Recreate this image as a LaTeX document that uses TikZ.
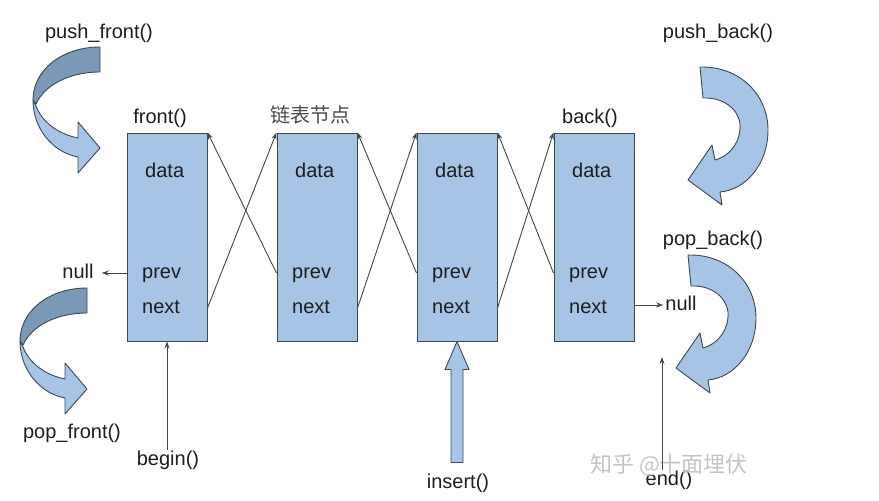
\documentclass[tikz,border=0pt]{standalone}
\usepackage{fontspec}
\setmainfont{Liberation Sans}
\newfontfamily\cjk{Noto Sans CJK SC}
\usetikzlibrary{arrows.meta}
\definecolor{boxfill}{HTML}{A7C4E6}
\definecolor{darkrib}{HTML}{7C98B7}
\definecolor{edgec}{HTML}{3E4852}
\definecolor{txt}{HTML}{1E1E1E}
\definecolor{cnlbl}{HTML}{4A4A4A}
\definecolor{wm}{HTML}{C4C4C4}
\begin{document}
\begin{tikzpicture}[x=1pt,y=-1pt,
  font=\fontsize{20}{24}\selectfont, text=txt,
  box/.style={draw=edgec, fill=boxfill, line width=1pt, minimum width=80pt, minimum height=208pt, inner sep=0pt},
  lbl/.style={inner sep=0pt, text height=15pt, text depth=4pt, anchor=center},
  fld/.style={lbl, anchor=west},
  link/.style={draw=edgec, line width=0.9pt, -{Stealth[length=7pt,width=5pt]}},
  rib/.style={draw=edgec, line width=0.9pt, line join=round},
  frontrib/.pic={
    \filldraw[rib, fill=boxfill] (33,100) .. controls (33,128) and (52,152) .. (78,157)
      -- (78,173) -- (100,148) -- (78,122) -- (78,138)
      .. controls (58,134) and (42,122) .. (36,106) -- cycle;
    \filldraw[rib, fill=darkrib] (100,47) -- (100,72) .. controls (68,72) and (44,86) .. (36,104)
      -- (33,100) .. controls (33,70) and (62,47) .. (100,47) -- cycle;
  },
  backrib/.pic={
    \filldraw[rib, fill=boxfill] (700,67) .. controls (740,66) and (768,95) .. (768,130)
      .. controls (768,165) and (745,190) .. (720,192) -- (722,205) -- (688,180)
      -- (712,145) -- (715,160) .. controls (732,155) and (741,140) .. (740,124)
      .. controls (738,108) and (722,97) .. (703,98) -- cycle;
  }]
\useasboundingbox (0,0) rectangle (879,501);

% ribbon arrows
\pic at (0,0) {frontrib};
\pic at (-13,241) {frontrib};
\pic at (0,0) {backrib};
\pic at (-12,188) {backrib};

% boxes
\node[box] (b1) at (167,237) {};
\node[box] (b2) at (317,237) {};
\node[box] (b3) at (457,237) {};
\node[box] (b4) at (594,237) {};

% fields
\node[fld] (d1) at (145,172) {data};
\node[fld] (p1) at (142,273) {prev};
\node[fld] (n1) at (142,308) {next};
\node[fld] (d2) at (295,172) {data};
\node[fld] (p2) at (292,273) {prev};
\node[fld] (n2) at (292,308) {next};
\node[fld] (d3) at (435,172) {data};
\node[fld] (p3) at (432,273) {prev};
\node[fld] (n3) at (432,308) {next};
\node[fld] (d4) at (572,172) {data};
\node[fld] (p4) at (569,273) {prev};
\node[fld] (n4) at (569,308) {next};

% labels
\node[lbl] (pushf) at (99,33) {push\_front()};
\node[lbl] (front) at (160,118) {front()};
\node[lbl, text=cnlbl, font=\cjk\fontsize{20}{24}\selectfont] (node) at (310,117) {链表节点};
\node[lbl] (back) at (590,118) {back()};
\node[lbl] (pushb) at (718,33) {push\_back()};
\node[lbl] (popb) at (713,240) {pop\_back()};
\node[lbl] (popf) at (72,433) {pop\_front()};
\node[lbl] (nullL) at (78,273) {null};
\node[lbl] (nullR) at (681,305) {null};
\node[lbl] (beginL) at (168,460) {begin()};
\node[lbl] (endL) at (669,480) {end()};
\node[lbl] (insL) at (458,483) {insert()};
\node[lbl, anchor=west, text=wm, font=\cjk\fontsize{22}{26}\selectfont] (wmark) at (590,467) {知乎 @十面埋伏};

% cross links
\draw[link] (n1 -| b1.east) -- (b2.north west);
\draw[link] (p2 -| b2.west) -- (b1.north east);
\draw[link] (n2 -| b2.east) -- (b3.north west);
\draw[link] (p3 -| b3.west) -- (b2.north east);
\draw[link] (n3 -| b3.east) -- (b4.north west);
\draw[link] (p4 -| b4.west) -- (b3.north east);

% null pointers
\draw[link] (p1 -| b1.west) -- ([xshift=8pt]nullL.east);
\draw[link] (nullR.west |- 0,305) ++(-30,0) coordinate (n4r) (b4.east |- n4r) -- ([xshift=-2pt]nullR.west |- n4r);

% iterators
\draw[link] (b1.south |- beginL.north) -- (b1.south);
\coordinate (endtip) at (662,357);
\draw[link] (endtip |- endL.north) -- (endtip);

% insert block arrow
\coordinate (instip) at (b3.south);
\filldraw[rib, fill=boxfill] (instip) -- ++(12,28) -- ++(-6,0) -- ++(0,93) -- ++(-12,0) -- ++(0,-93) -- ++(-6,0) -- cycle;
\end{tikzpicture}
\end{document}
